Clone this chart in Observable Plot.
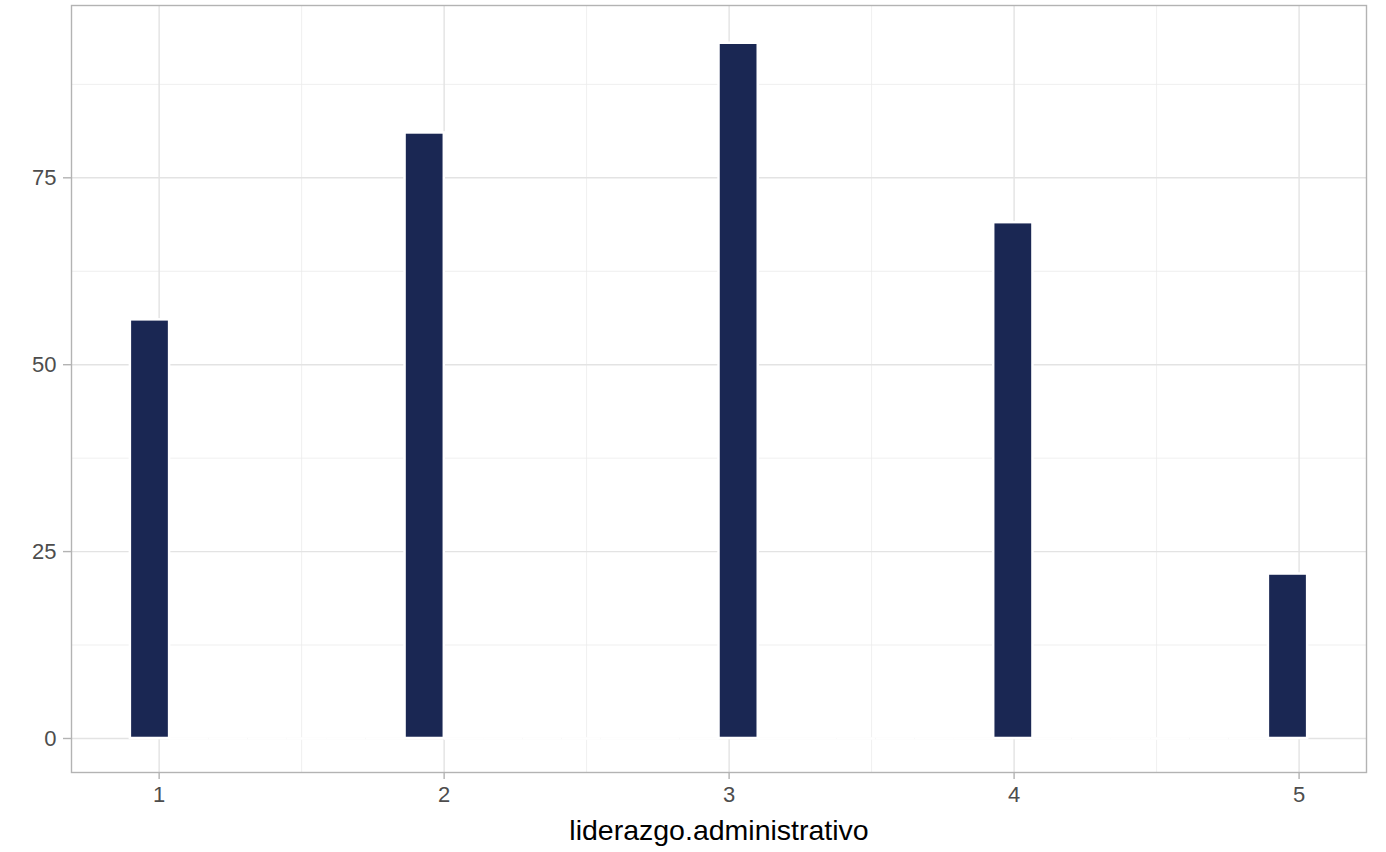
<!DOCTYPE html>
<html>
<head>
<meta charset="utf-8">
<script src="https://cdn.jsdelivr.net/npm/d3@7"></script>
<script src="https://cdn.jsdelivr.net/npm/@observablehq/plot@0.6"></script>
<style>
  html, body { margin: 0; padding: 0; background: #ffffff; }
  svg { display: block; }
</style>
</head>
<body>
<div id="chart"></div>
<script>
// Histogram of liderazgo.administrativo: 30 bins over the data range
const binRange = [0.899, 5.030];
const binCounts = [56, 0, 0, 0, 0, 0, 0, 81, 0, 0, 0, 0, 0, 0, 0, 93, 0, 0, 0, 0, 0, 0, 69, 0, 0, 0, 0, 0, 0, 22];
const xTicks = [1, 2, 3, 4, 5];
const xMinor = [1.5, 2.5, 3.5, 4.5];
const yTicks = [0, 25, 50, 75];
const yMinor = [12.5, 37.5, 62.5, 87.5];
const xLabel = "liderazgo.administrativo";

const nBins = binCounts.length;
const bw = (binRange[1] - binRange[0]) / nBins;
const bins = binCounts.map((c, i) => ({
  x1: binRange[0] + i * bw,
  x2: binRange[0] + (i + 1) * bw,
  count: c
}));
const emptyBins = bins.filter(d => d.count === 0);

const span = binRange[1] - binRange[0];
const xDomain = [binRange[0] - 0.05 * span, binRange[1] + 0.05 * span];
const yDomain = [-4.55, 98.05];

const grid = "#ebebeb";
const plot = Plot.plot({
  width: 1386,
  height: 852,
  marginLeft: 71,
  marginRight: 20,
  marginTop: 5,
  marginBottom: 80,
  style: { fontFamily: "Liberation Sans, Arial, sans-serif", background: "#ffffff" },
  x: { domain: xDomain },
  y: { domain: yDomain },
  marks: [
    Plot.ruleX(xMinor, { stroke: grid, strokeWidth: 0.8 }),
    Plot.ruleY(yMinor, { stroke: grid, strokeWidth: 0.8 }),
    Plot.ruleX(xTicks, { stroke: "#e3e3e3", strokeWidth: 1.4 }),
    Plot.ruleY(yTicks, { stroke: "#e3e3e3", strokeWidth: 1.4 }),
    // empty bins: zero-height bars whose white outline covers the baseline
    Plot.ruleY(emptyBins, { x1: "x1", x2: "x2", y: "count", stroke: "#ffffff", strokeWidth: 2.5 }),
    Plot.rectY(bins.filter(d => d.count > 0), { x1: "x1", x2: "x2", y1: 0, y2: "count", fill: "#1a2753", stroke: "#ffffff", strokeWidth: 2.5 }),
    Plot.frame({ stroke: "#b3b3b3", strokeWidth: 1.4 }),
    Plot.axisX(xTicks, { tickSize: 7, tickPadding: 7, tickFormat: d3.format("d"), stroke: "#b3b3b3", strokeWidth: 1.4, fill: "#4d4d4d", fontSize: 22, label: null }),
    Plot.axisY(yTicks, { tickSize: 8, tickPadding: 7, tickFormat: d3.format("d"), stroke: "#b3b3b3", strokeWidth: 1.4, fill: "#4d4d4d", fontSize: 22, label: null }),
    Plot.text([xLabel], { frameAnchor: "bottom", dy: 58, lineAnchor: "middle", text: d => d, fontSize: 28.5, fill: "#000000" })
  ]
});
document.getElementById("chart").appendChild(plot);
</script>
</body>
</html>
